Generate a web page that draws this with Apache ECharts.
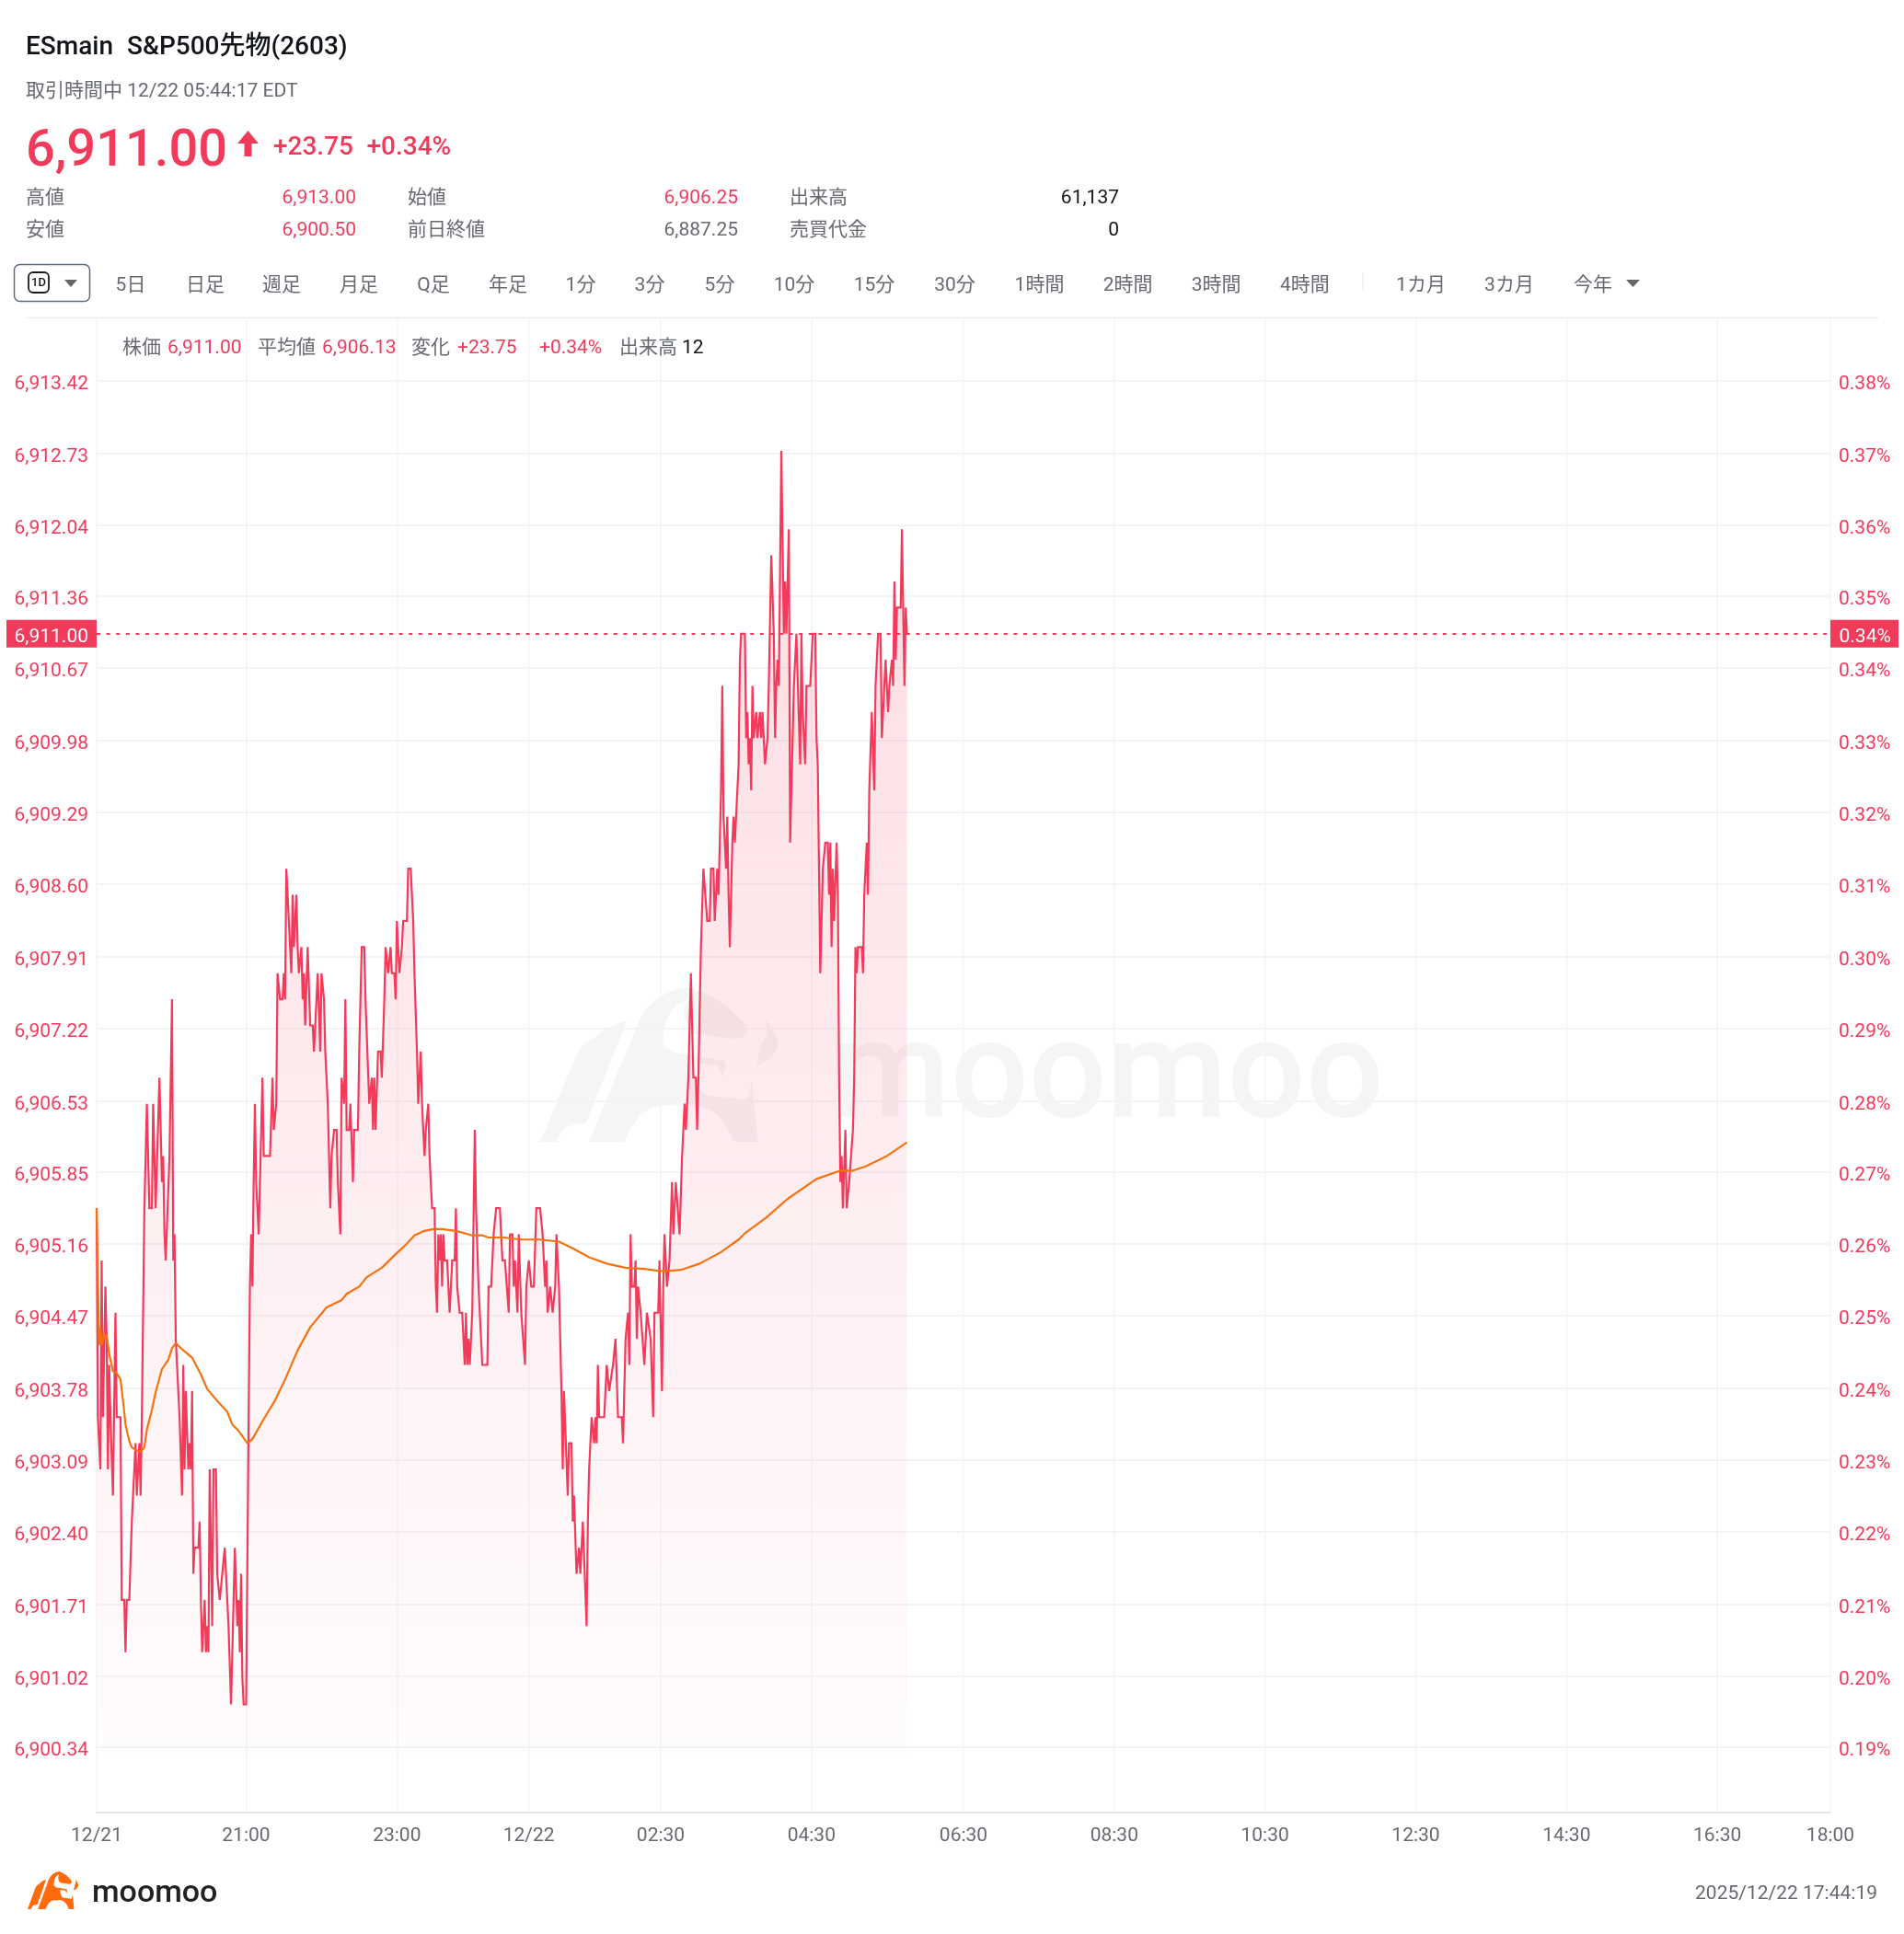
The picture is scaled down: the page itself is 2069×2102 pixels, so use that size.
<!DOCTYPE html>
<html><head><meta charset="utf-8">
<style>html,body{margin:0;padding:0;background:#fff}#c{width:2069px;height:2102px}</style>
<script src="https://cdn.jsdelivr.net/npm/echarts@6/dist/echarts.min.js"></script>
</head><body><div id="c"></div>
<script>
// Values: [minutes since chart start, price]
const priceTrace=[
[0,6905.5],[1,6903.5],[3,6903],[4,6905],[5,6903.5],[7,6904.75],[8,6904.25],[9,6903],[10,6904],[11,6903.5],
[12,6903.5],[13,6902.75],[15,6904.5],[16,6903.5],[19,6903.5],[20,6901.75],[22,6901.75],[23,6901.25],[24,6901.75],[26,6901.75],
[28,6902.5],[29,6902.75],[30,6902.75],[31,6903.25],[32,6902.75],[33,6903],[34,6903.25],[35,6902.75],[36,6903.5],[37,6903.5],
[38,6905.5],[40,6906.5],[42,6905.5],[44,6905.5],[45,6906.5],[47,6905.5],[48,6905.5],[50,6906.75],[52,6905.75],[53,6906],
[54,6905.25],[55,6905],[56,6905],[58,6906],[59,6906],[60,6907.5],[61,6905],[62,6905.25],[63,6904.25],[66,6903.5],
[68,6902.75],[69,6904],[70,6903],[71,6903.75],[73,6903],[74,6903.25],[75,6903],[76,6903.75],[77,6902],[78,6902.25],
[81,6902.25],[82,6902.5],[83,6901.75],[84,6901.25],[86,6901.75],[87,6901.25],[88,6901.5],[89,6901.25],[90,6903],[92,6901.5],
[93,6903],[95,6903],[96,6902],[97,6902],[98,6901.75],[100,6902],[101,6902],[102,6902.25],[104,6901.75],[105,6901.5],
[107,6900.75],[108,6901.25],[109,6901.25],[110,6902.25],[112,6901.5],[113,6901.75],[114,6901.25],[115,6902],[116,6901],[117,6900.75],
[119,6900.75],[121,6903.5],[122,6904.75],[123,6905.25],[124,6904.75],[125,6905.75],[126,6906.5],[127,6905.75],[128,6905.75],[129,6905.25],
[131,6906.25],[132,6906.75],[133,6906],[138,6906],[140,6906.75],[141,6906.25],[143,6906.5],[144,6907.75],[146,6907.5],[148,6907.5],
[149,6907.75],[150,6907.5],[151,6908.75],[153,6908.25],[155,6907.75],[156,6908.5],[157,6908],[159,6908.5],[160,6908],[161,6907.75],
[163,6908],[164,6907.5],[165,6907.75],[166,6907.25],[168,6908],[169,6908],[170,6907.25],[172,6907.25],[173,6907],[175,6907.5],
[176,6907.75],[177,6907.75],[178,6907],[179,6907.75],[181,6907.5],[182,6907],[184,6906.5],[185,6906.5],[186,6905.5],[187,6906],
[188,6906],[189,6906.25],[191,6906.25],[192,6905.75],[194,6905.25],[195,6906.75],[197,6906.5],[198,6907.5],[199,6906.25],[201,6906.25],
[202,6906.5],[204,6905.75],[205,6906.25],[208,6906.25],[209,6907],[211,6908],[213,6908],[214,6907.5],[215,6907.5],[217,6906.5],
[218,6906.5],[219,6906.75],[220,6906.25],[221,6906.75],[222,6906.25],[224,6907],[226,6907],[227,6906.75],[228,6906.75],[229,6907.5],
[230,6908],[232,6907.75],[233,6907.75],[234,6908],[235,6907.75],[237,6907.75],[238,6907.5],[239,6908.25],[241,6907.75],[243,6908],
[244,6908.25],[247,6908.25],[248,6908.75],[250,6908.75],[252,6908.25],[253,6907.75],[254,6907.75],[255,6907],[256,6906.5],[258,6907],
[259,6906.5],[261,6906],[262,6906.25],[264,6906.5],[265,6906],[266,6906],[267,6905.5],[269,6905.5],[270,6904.75],[271,6904.5],
[272,6905.25],[273,6905],[274,6905.25],[275,6904.75],[276,6905.25],[277,6905],[279,6905],[281,6904.5],[283,6905],[285,6905],
[286,6905.5],[287,6904.75],[289,6904.5],[291,6904.5],[293,6904],[294,6904.5],[295,6904],[296,6904.25],[297,6904],[299,6904.5],
[301,6906.25],[302,6905.5],[304,6904.75],[305,6904.5],[306,6904.5],[307,6904],[311,6904],[312,6904.75],[314,6904.75],[315,6905],
[316,6905.25],[318,6905.5],[321,6905.5],[323,6905],[325,6905],[328,6904.5],[329,6905.25],[331,6905.25],[332,6904.75],[333,6905],
[334,6904.75],[335,6904.5],[336,6905.25],[338,6904.5],[341,6904],[342,6904.75],[344,6905],[346,6904.75],[348,6904.75],[350,6905.5],
[353,6905.5],[355,6905.25],[356,6905.25],[357,6904.75],[358,6905],[359,6904.5],[361,6904.75],[363,6904.5],[365,6904.75],[366,6905.25],
[368,6904.75],[369,6904.75],[370,6903.75],[371,6903],[372,6903.75],[375,6902.75],[376,6903.25],[378,6903.25],[379,6902.5],[380,6902.75],
[382,6902],[384,6902.25],[385,6902],[387,6902.5],[388,6902.5],[390,6901.5],[391,6902.5],[392,6903],[394,6903.5],[396,6903.25],
[397,6903.5],[398,6903.25],[399,6904],[400,6903.5],[404,6903.5],[406,6904],[408,6903.75],[409,6903.75],[411,6904],[412,6904],
[413,6904.25],[415,6903.5],[418,6903.5],[419,6903.25],[421,6904.25],[423,6904.5],[424,6904],[425,6905.25],[426,6904.75],[428,6904.75],
[429,6905],[430,6904.25],[431,6904.75],[433,6904.5],[434,6904.5],[436,6904],[437,6904],[438,6904.5],[439,6904.5],[441,6904.25],
[442,6904.25],[443,6903.5],[444,6904.5],[447,6904.5],[448,6905],[450,6903.75],[451,6904.75],[452,6905.25],[453,6905.25],[454,6904.75],
[456,6905],[457,6905],[458,6905.75],[459,6905.25],[461,6905.75],[462,6905.75],[464,6905.25],[465,6905.25],[466,6906],[467,6906.25],
[468,6906.5],[469,6906.25],[471,6906.75],[473,6907.75],[475,6906.75],[477,6906.75],[478,6906.25],[479,6906.75],[481,6908],[483,6908.75],
[484,6908.75],[486,6908.25],[488,6908.25],[489,6908.75],[491,6908.75],[492,6908.25],[493,6908.25],[494,6908.75],[495,6908.5],[497,6909.5],
[498,6910.5],[499,6909.25],[501,6908.75],[502,6909.25],[503,6908.5],[504,6908],[506,6909],[507,6909.25],[508,6909],[509,6909.25],
[510,6909.25],[511,6909.75],[512,6910.75],[513,6911],[516,6911],[517,6910],[518,6910.25],[519,6909.75],[520,6910],[521,6909.5],
[522,6910.5],[523,6910],[525,6910.25],[526,6910],[528,6910.25],[529,6910],[530,6910.25],[532,6909.75],[534,6910],[535,6910.5],
[537,6911.75],[539,6911],[540,6910],[541,6910.5],[542,6910.75],[543,6910.5],[545,6912.75],[547,6911],[548,6911.5],[549,6911],
[551,6912],[552,6909],[554,6910],[555,6910.5],[557,6911],[560,6909.75],[561,6911],[562,6910.25],[563,6910.25],[564,6909.75],
[565,6910.5],[568,6910.5],[570,6911],[572,6911],[573,6910],[574,6909.75],[576,6907.75],[578,6908.75],[579,6908.75],[580,6909],
[582,6909],[583,6908.5],[584,6909],[585,6908],[586,6908.75],[587,6908.25],[589,6909],[590,6908.5],[591,6906.75],[592,6905.75],
[593,6906],[594,6905.5],[596,6906.25],[597,6905.5],[598,6905.5],[599,6905.75],[600,6905.75],[602,6906.25],[603,6906.75],[604,6908],
[605,6907.75],[606,6908],[609,6908],[610,6907.75],[611,6908.5],[613,6909],[614,6908.5],[615,6909.5],[617,6910.25],[619,6909.5],
[620,6910.5],[622,6911],[624,6911],[625,6910],[626,6910],[627,6910.5],[628,6910.75],[630,6910.25],[631,6910.5],[632,6910.5],
[633,6910.75],[634,6910.5],[635,6911.5],[636,6910.75],[637,6911.25],[640,6911.25],[641,6912],[643,6910.5],[644,6911.25],[645,6911]
];
const averageTrace=[
[0,6905.5],[1,6904.87],[2,6904.19],[3,6904.36],[4,6904.19],[6,6904.29],[8,6904.28],[10,6904.11],[11,6904.05],[13,6903.94],
[16,6903.92],[19,6903.86],[21,6903.66],[23,6903.43],[26,6903.27],[28,6903.21],[32,6903.18],[35,6903.17],[38,6903.21],[40,6903.38],
[44,6903.57],[47,6903.74],[52,6903.96],[57,6904.05],[60,6904.16],[63,6904.21],[68,6904.15],[76,6904.07],[83,6903.91],[88,6903.77],
[95,6903.67],[104,6903.55],[108,6903.43],[113,6903.37],[120,6903.25],[124,6903.29],[132,6903.46],[142,6903.66],[150,6903.86],[160,6904.14],
[170,6904.36],[183,6904.55],[195,6904.62],[199,6904.68],[209,6904.75],[215,6904.84],[227,6904.93],[238,6905.06],[246,6905.15],[253,6905.24],
[260,6905.28],[268,6905.3],[275,6905.3],[287,6905.28],[299,6905.24],[307,6905.24],[312,6905.22],[324,6905.22],[338,6905.2],[353,6905.2],
[368,6905.18],[380,6905.11],[392,6905.03],[406,6904.97],[421,6904.93],[436,6904.92],[448,6904.9],[455,6904.9],[465,6904.91],[480,6904.97],
[497,6905.08],[511,6905.2],[516,6905.26],[533,6905.41],[550,6905.59],[573,6905.78],[592,6905.86],[602,6905.86],[612,6905.9],[629,6906],[645,6906.13]
];
const lastPrice=6911.00;
const priceTicks=[6913.42,6912.73,6912.04,6911.36,6910.67,6909.98,6909.29,6908.60,6907.91,6907.22,6906.53,6905.85,6905.16,6904.47,6903.78,6903.09,6902.40,6901.71,6901.02,6900.34];
const percentTicks=['0.38%','0.37%','0.36%','0.35%','0.34%','0.33%','0.32%','0.31%','0.30%','0.29%','0.28%','0.27%','0.26%','0.25%','0.24%','0.23%','0.22%','0.21%','0.20%','0.19%'];
const timeTickMinutes=[0,119,239,344,449,569,690,810,930,1050,1170,1290,1380];
const timeTickLabels=['12/21','21:00','23:00','12/22','02:30','04:30','06:30','08:30','10:30','12:30','14:30','16:30','18:00'];
const tabLabels=['5日','日足','週足','月足','Q足','年足','1分','3分','5分','10分','15分','30分','1時間','2時間','3時間','4時間','1カ月','3カ月','今年'];

const RED='#f23a5a',GREY='#666a70',DARK='#111418';
const FF='Roboto,"Noto Sans CJK JP",sans-serif';
const tabCentres=[142,223,306,390,471,552,631,706,782,863,950,1037.5,1129.5,1225.6,1321.7,1417.9,1544,1640,1731];
const fmt=v=>v.toLocaleString('en-US',{minimumFractionDigits:2,maximumFractionDigits:2});

const BULL='M0 168 L34 87 Q42 62 56 57 Q75 40 94 37 L50 147 Q35 150 27 152 Q20 160 18 168 Z '+
 'M53 168 L107 38 Q122 5 161 0 Q195 8 225 43 Q228 55 212 56 L165 50 Q150 30 161 13 Q135 20 133 60 Q140 72 161 73 L200 80 L202 87 L198 97 L193 85 L165 82 Q170 115 183 118 L225 122 L230 102 L237 168 L210 168 Q200 140 183 133 Q165 125 152 128 Q125 128 117 133 Q100 145 91 168 Z '+
 'M244 35 Q262 55 258 65 Q250 82 235 84 L241 60 Q250 50 244 35 Z';
echarts.graphic.registerShape('bullMark',echarts.graphic.extendPath(BULL,{}));

const chart=echarts.init(document.getElementById('c'),null,{renderer:'canvas'});
const yMin=6899.715,yMax=6914.01;
const option={
 animation:false,backgroundColor:'#fff',
 textStyle:{fontFamily:FF},
 grid:{left:105,right:80,top:347,bottom:132,containLabel:false},
 xAxis:{type:'value',min:0,max:1380,
  axisLine:{show:true,onZero:false,lineStyle:{color:'#e5e6e8',width:2}},
  axisTick:{show:false,customValues:timeTickMinutes},
  axisLabel:{customValues:timeTickMinutes,color:GREY,fontSize:21,fontFamily:FF,margin:15,hideOverlap:false,
    formatter:v=>timeTickLabels[timeTickMinutes.indexOf(v)]||''},
  splitLine:{show:true,lineStyle:{color:'#f4f4f6',width:1.5}}},
 yAxis:[
  {type:'value',min:yMin,max:yMax,position:'left',
   axisLine:{show:false},axisTick:{show:false,customValues:priceTicks},
   axisLabel:{customValues:priceTicks,color:RED,fontSize:21,fontFamily:FF,margin:9,verticalAlign:'top',lineHeight:8,formatter:v=>fmt(v)},
   splitLine:{show:true,lineStyle:{color:'#f4f4f6',width:2}}},
  {type:'value',min:yMin,max:yMax,position:'right',
   axisLine:{show:false},axisTick:{show:false,customValues:priceTicks},
   axisLabel:{customValues:priceTicks,color:RED,fontSize:21,fontFamily:FF,margin:9,verticalAlign:'top',lineHeight:8,align:'left',
     formatter:v=>percentTicks[priceTicks.indexOf(v)]||''},
   splitLine:{show:false}}
 ],
 series:[
  {name:'株価',type:'line',data:priceTrace,symbol:'none',z:3,silent:true,
   lineStyle:{color:RED,width:2.2,join:'miter',miterLimit:3},
   areaStyle:{origin:6900.24,color:new echarts.graphic.LinearGradient(0,0,0,1,[{offset:0,color:'rgba(242,58,90,0.26)'},{offset:1,color:'rgba(242,58,90,0.02)'}])},
   markLine:{silent:true,symbol:'none',animation:false,label:{show:false},
     lineStyle:{color:RED,width:2,type:[4,6.6]},data:[{yAxis:lastPrice}]}},
  {name:'平均値',type:'line',data:averageTrace,symbol:'none',z:4,silent:true,
   lineStyle:{color:'#f5720f',width:2.2}}
 ]
};
chart.setOption(option);
const lastY=chart.convertToPixel({yAxisIndex:0},lastPrice);

function T(x,y,text,fill,size,o){o=o||{};return {type:'text',x,y,z:o.z||10,silent:true,style:{text,fill,font:(o.w||'400')+' '+size+'px '+FF,align:o.a||'left',verticalAlign:'middle'}};}
const g=[
 // watermark
 {type:'bullMark',x:587,y:1073,z:-1,silent:true,style:{fill:'#f5f5f5'}},
 {type:'text',x:902,y:1176,z:-1,silent:true,style:{text:'moomoo',fill:'#f5f5f5',font:'500 150px '+FF,align:'left',verticalAlign:'middle'}},
 // header
 T(28,52,'ESmain',DARK,28,{w:'500'}),T(138,52,'S&P500先物(2603)',DARK,28,{w:'500'}),
 T(28,100,'取引時間中 12/22 05:44:17 EDT',GREY,21),
 T(28,166,'6,911.00',RED,56,{w:'500'}),
 {type:'polygon',z:10,silent:true,shape:{points:[[269.5,142],[281,156],[273.5,156],[273.5,170],[265.5,170],[265.5,156],[258,156]]},style:{fill:RED}},
 T(297,161,'+23.75',RED,28,{w:'500'}),T(398.5,161,'+0.34%',RED,28,{w:'500'}),
 T(28,216,'高値',GREY,21),T(387,216,'6,913.00',RED,21,{a:'right'}),
 T(443,216,'始値',GREY,21),T(802,216,'6,906.25',RED,21,{a:'right'}),
 T(858,216,'出来高',GREY,21),T(1216,216,'61,137',DARK,21,{a:'right'}),
 T(28,251,'安値',GREY,21),T(387,251,'6,900.50',RED,21,{a:'right'}),
 T(443,251,'前日終値',GREY,21),T(802,251,'6,887.25',GREY,21,{a:'right'}),
 T(858,251,'売買代金',GREY,21),T(1216,251,'0',DARK,21,{a:'right'}),
 // range selector
 {type:'rect',z:10,silent:true,shape:{x:15.5,y:287.5,width:82,height:40,r:6},style:{fill:'#fff',stroke:'#5d6a7e',lineWidth:1.5}},
 {type:'rect',z:11,silent:true,shape:{x:31,y:296,width:22,height:22,r:5},style:{fill:'#fff',stroke:'#1a1a1a',lineWidth:1.8}},
 T(42,308,'1D',DARK,13,{a:'center',w:'500',z:12}),
 {type:'polygon',z:11,silent:true,shape:{points:[[70,304],[84,304],[77,312]]},style:{fill:'#666'}},
 {type:'polygon',z:11,silent:true,shape:{points:[[1767,304],[1782,304],[1774.5,312]]},style:{fill:'#666'}},
 {type:'line',z:10,silent:true,shape:{x1:1481,y1:297,x2:1481,y2:316},style:{stroke:'#e6e6e8',lineWidth:1}},
 {type:'line',z:10,silent:true,shape:{x1:28,y1:345.5,x2:2041,y2:345.5},style:{stroke:'#e9eaec',lineWidth:1.5}},
 // legend row
 T(133,379,'株価',GREY,21),T(182,379,'6,911.00',RED,21),
 T(280,379,'平均値',GREY,21),T(350,379,'6,906.13',RED,21),
 T(447,379,'変化',GREY,21),T(497,379,'+23.75',RED,21),T(586,379,'+0.34%',RED,21),
 T(673,379,'出来高',GREY,21),T(741,379,'12',DARK,21),
 // last-price tags
 {type:'rect',z:10,silent:true,shape:{x:7,y:lastY-15,width:98,height:30},style:{fill:RED}},
 T(96,lastY+4,fmt(lastPrice),'#fff',21,{a:'right',z:11}),
 {type:'rect',z:10,silent:true,shape:{x:1989,y:lastY-15,width:74,height:30},style:{fill:RED}},
 T(1998.5,lastY+4,percentTicks[4],'#fff',21,{z:11}),
 // footer
 {type:'bullMark',x:30,y:2034,scaleX:0.213,scaleY:0.244,z:10,silent:true,style:{fill:'#ff6a0d'}},
 T(100,2058,'moomoo','#222',34,{w:'500'}),
 T(2040,2059,'2025/12/22 17:44:19',GREY,21,{a:'right'})
];
tabLabels.forEach((t,i)=>g.push(T(tabCentres[i],311,t,GREY,21,{a:'center'})));
chart.setOption({graphic:{elements:g}});
</script></body></html>
